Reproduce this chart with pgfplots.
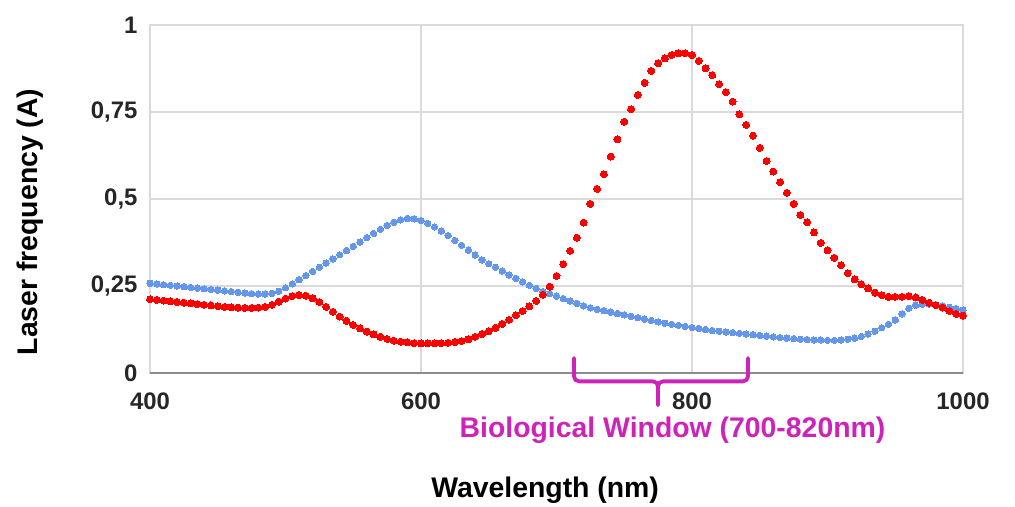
\documentclass[border=0pt]{standalone}
\usepackage{fontspec}
\setmainfont{Liberation Sans}
\usepackage{pgfplots}
\pgfplotsset{compat=1.18}
\usepackage{pgfplotstable}
\definecolor{gridgray}{RGB}{218,218,218}
\definecolor{axisgray}{RGB}{140,140,140}
\definecolor{dotred}{RGB}{255,0,0}
\definecolor{dotblue}{RGB}{100,150,235}
\definecolor{bracketc}{RGB}{205,35,185}

\pgfplotstableread{
x y
400 0.212
405 0.210
410 0.208
415 0.206
420 0.204
425 0.202
430 0.200
435 0.198
440 0.196
445 0.194
450 0.192
455 0.190
460 0.189
465 0.188
470 0.187
475 0.187
480 0.188
485 0.190
490 0.196
495 0.205
500 0.214
505 0.221
510 0.224
515 0.222
520 0.215
525 0.204
530 0.190
535 0.176
540 0.162
545 0.150
550 0.138
555 0.128
560 0.119
565 0.111
570 0.104
575 0.098
580 0.093
585 0.090
590 0.088
595 0.086
600 0.085
605 0.085
610 0.085
615 0.086
620 0.087
625 0.089
630 0.092
635 0.097
640 0.104
645 0.112
650 0.120
655 0.130
660 0.141
665 0.153
670 0.166
675 0.178
680 0.192
685 0.207
690 0.225
695 0.248
700 0.279
705 0.313
710 0.351
715 0.389
720 0.432
725 0.486
730 0.529
735 0.571
740 0.622
745 0.672
750 0.722
755 0.758
760 0.799
765 0.834
770 0.868
775 0.890
780 0.904
785 0.914
790 0.919
795 0.919
800 0.914
805 0.897
810 0.876
815 0.856
820 0.830
825 0.807
830 0.780
835 0.743
840 0.713
845 0.682
850 0.647
855 0.609
860 0.579
865 0.548
870 0.518
875 0.486
880 0.454
885 0.433
890 0.404
895 0.374
900 0.353
905 0.331
910 0.310
915 0.287
920 0.269
925 0.255
930 0.243
935 0.231
940 0.224
945 0.219
950 0.219
955 0.219
960 0.221
965 0.217
970 0.210
975 0.202
980 0.195
985 0.188
990 0.178
995 0.170
1000 0.165
}\redtable

\pgfplotstableread{
x y
400 0.258
405 0.256
410 0.254
415 0.252
420 0.250
425 0.248
430 0.246
435 0.244
440 0.242
445 0.240
450 0.238
455 0.236
460 0.234
465 0.232
470 0.230
475 0.228
480 0.227
485 0.227
490 0.229
495 0.235
500 0.245
505 0.256
510 0.268
515 0.280
520 0.292
525 0.304
530 0.316
535 0.328
540 0.340
545 0.352
550 0.364
555 0.376
560 0.389
565 0.401
570 0.413
575 0.424
580 0.433
585 0.440
590 0.444
595 0.443
600 0.438
605 0.430
610 0.420
615 0.408
620 0.395
625 0.381
630 0.367
635 0.353
640 0.339
645 0.325
650 0.314
655 0.304
660 0.293
665 0.282
670 0.272
675 0.262
680 0.252
685 0.243
690 0.234
695 0.228
700 0.221
705 0.214
710 0.207
715 0.200
720 0.193
725 0.187
730 0.183
735 0.179
740 0.175
745 0.171
750 0.167
755 0.163
760 0.159
765 0.155
770 0.151
775 0.147
780 0.143
785 0.140
790 0.137
795 0.134
800 0.131
805 0.128
810 0.125
815 0.122
820 0.120
825 0.118
830 0.116
835 0.114
840 0.112
845 0.110
850 0.108
855 0.106
860 0.104
865 0.102
870 0.100
875 0.099
880 0.097
885 0.096
890 0.095
895 0.095
900 0.094
905 0.094
910 0.095
915 0.097
920 0.100
925 0.105
930 0.112
935 0.120
940 0.130
945 0.140
950 0.152
955 0.170
960 0.186
965 0.195
970 0.198
975 0.198
980 0.196
985 0.193
990 0.189
995 0.185
1000 0.181
}\bluetable

\begin{document}
\begin{tikzpicture}
\useasboundingbox (0,0) rectangle (1015bp,507bp);
\begin{axis}[
  at={(150bp,134bp)}, anchor=south west,
  scale only axis, width=813bp, height=348bp,
  xmin=400, xmax=1000, ymin=0, ymax=1,
  xtick={400,600,800,1000}, ytick={0,0.25,0.5,0.75,1},
  xticklabels={400,600,800,1000},
  yticklabels={0,{0,25},{0,5},{0,75},1},
  grid=major, major grid style={gridgray, line width=1.5bp},
  axis line style={gridgray, line width=1.5bp},
  major tick length=0pt,
  tick label style={font=\fontsize{24}{24}\selectfont\bfseries, text=black!85},
  yticklabel style={anchor=east, xshift=-9bp},
  xticklabel style={anchor=north, yshift=-16bp},
  clip=false,
  xlabel={Wavelength (nm)},
  ylabel={Laser frequency (A)},
  label style={font=\fontsize{28.5}{28.5}\selectfont\bfseries},
  xlabel style={at={(axis description cs:0.486,-0.336)}, anchor=center},
  ylabel style={at={(axis description cs:-0.148,0.434)}, anchor=center, rotate=0},
]
\draw[axisgray, line width=2.2bp] (rel axis cs:0,0) -- (rel axis cs:1,0);
\addplot[dotblue, only marks, mark=*, mark size=3.2bp, mark options={draw=dotblue, fill=dotblue, line width=0pt}] table[x=x,y=y] {\bluetable};
\addplot[dotred, only marks, mark=*, mark size=3.5bp, mark options={draw=dotred, fill=dotred, line width=0pt}] table[x=x,y=y] {\redtable};
\draw[bracketc, line width=3.8bp, rounded corners=5bp, line cap=round]
  (axis cs:712.9,0.043) -- (axis cs:712.9,-0.024) -- (axis cs:774.9,-0.024) -- (axis cs:774.9,-0.092);
\draw[bracketc, line width=3.8bp, rounded corners=5bp, line cap=round]
  (axis cs:841.3,0.043) -- (axis cs:841.3,-0.024) -- (axis cs:774.9,-0.024) -- (axis cs:774.9,-0.092);
\node[text=bracketc, font=\fontsize{28.5}{28.5}\selectfont\bfseries, anchor=base] at (axis cs:785.6,-0.185) {Biological Window (700-820nm)};
\end{axis}
\end{tikzpicture}
\end{document}
